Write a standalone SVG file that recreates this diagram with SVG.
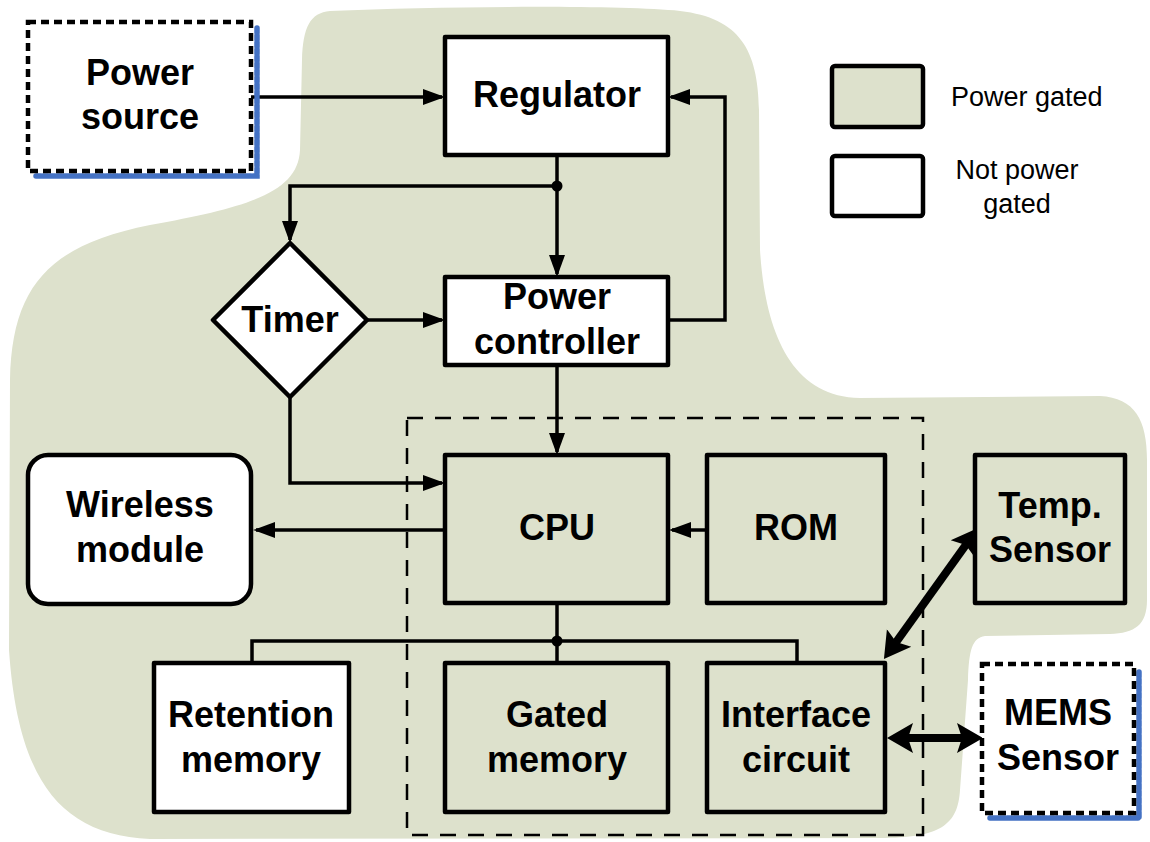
<svg xmlns="http://www.w3.org/2000/svg" width="1150" height="842" viewBox="0 0 1150 842">
<style>
.box{stroke:#000;stroke-width:4.5;stroke-linejoin:round}
.g{fill:#dde1cc}
.w{fill:#fff}
.lbl{font-family:"Liberation Sans",Arial,sans-serif;font-weight:bold;font-size:36px;fill:#000;text-anchor:middle}
.leg{font-family:"Liberation Sans",Arial,sans-serif;font-size:27px;fill:#000}
.con{fill:none;stroke:#000;stroke-width:3.5}
.ext{fill:#fff;stroke:#000;stroke-width:4.5;stroke-dasharray:8 5}
.shadow{fill:none;stroke:#4472c4;stroke-width:5.5;stroke-dasharray:5 2;stroke-linecap:round}
</style>
<defs>
<marker id="arr" markerUnits="userSpaceOnUse" viewBox="0 0 22 16" markerWidth="22" markerHeight="16" refX="19" refY="8" orient="auto"><path d="M0,0 L22,8 L0,16 z" fill="#000"/></marker>
<marker id="thick" markerUnits="userSpaceOnUse" viewBox="0 -16 28 32" markerWidth="28" markerHeight="32" refX="6" refY="0" orient="auto-start-reverse"><path d="M0,-15 L26,0 L0,15 L5,0 z" fill="#000"/></marker>
</defs>
<rect width="1150" height="842" fill="#fff"/>
<path id="gated-region" class="g" d="M330,11 C450,6 620,5 680,11 C740,18 758,50 759,110 L760,250 C765,330 790,397 860,398 L1100,396 C1135,398 1147,420 1147,460 L1147,600 C1147,625 1135,633 1110,634 L985,636 C972,638 969,650 968,680 L960,790 C958,825 940,838 880,838 L150,839 C60,835 18,780 9,650 L10,380 C12,285 50,245 150,225 C250,207 298,192 300,150 L302,60 C303,27 310,13 330,11 Z"/>

<g id="legend">
<rect class="box g" x="832" y="66" width="91" height="61" rx="3"/>
<text class="leg" x="951" y="106">Power gated</text>
<rect class="box w" x="832" y="156" width="91" height="60" rx="3"/>
<text class="leg" x="1017" y="179" text-anchor="middle">Not power</text>
<text class="leg" x="1017" y="213" text-anchor="middle">gated</text>
</g>

<rect id="dashed-domain" x="407" y="418" width="516" height="417" fill="none" stroke="#000" stroke-width="2.5" stroke-dasharray="16 12"/>

<g id="connectors">
<path class="con" d="M251,97 H442" marker-end="url(#arr)"/>
<path class="con" d="M557,155 V274" marker-end="url(#arr)"/>
<path class="con" d="M557,186 H290 V240" marker-end="url(#arr)"/>
<path class="con" d="M367,320 H442" marker-end="url(#arr)"/>
<path class="con" d="M668,320 H725 V97 H671" marker-end="url(#arr)"/>
<path class="con" d="M557,365 V452" marker-end="url(#arr)"/>
<path class="con" d="M290,397 V483 H442" marker-end="url(#arr)"/>
<path class="con" d="M445,530 H256" marker-end="url(#arr)"/>
<path class="con" d="M707,530 H672" marker-end="url(#arr)"/>
<path class="con" d="M557,603 V663"/>
<path class="con" d="M252,663 V641 H797 V663"/>
<circle cx="557" cy="186" r="5.5" fill="#000"/>
<circle cx="557" cy="641" r="5.5" fill="#000"/>
<path d="M895.6,642.8 L966.4,544.2" stroke="#000" stroke-width="8" fill="none" marker-start="url(#thick)" marker-end="url(#thick)"/>
<path d="M907,738 H963" stroke="#000" stroke-width="8" fill="none" marker-start="url(#thick)" marker-end="url(#thick)"/>
</g>

<g id="power-source">
<path class="shadow" d="M257,28 V176 H35"/>
<rect class="ext" x="28" y="22" width="223" height="149"/>
<text class="lbl" x="140" y="85">Power</text>
<text class="lbl" x="140" y="129">source</text>
</g>

<g id="regulator">
<rect class="box w" x="445" y="37" width="223" height="118"/>
<text class="lbl" x="557" y="107">Regulator</text>
</g>

<g id="timer">
<polygon class="box w" points="290,243 367,320 290,397 213,320"/>
<text class="lbl" x="290" y="332">Timer</text>
</g>

<g id="power-controller">
<rect class="box w" x="445" y="277" width="223" height="88"/>
<text class="lbl" x="557" y="309">Power</text>
<text class="lbl" x="557" y="354">controller</text>
</g>

<g id="wireless-module">
<rect class="box w" x="28" y="455" width="223" height="149" rx="20"/>
<text class="lbl" x="140" y="517">Wireless</text>
<text class="lbl" x="140" y="562">module</text>
</g>

<g id="cpu">
<rect class="box g" x="445" y="455" width="223" height="148"/>
<text class="lbl" x="557" y="540">CPU</text>
</g>

<g id="rom">
<rect class="box g" x="707" y="455" width="178" height="148"/>
<text class="lbl" x="796" y="540">ROM</text>
</g>

<g id="temp-sensor">
<rect class="box g" x="975" y="455" width="150" height="148"/>
<text class="lbl" x="1050" y="518">Temp.</text>
<text class="lbl" x="1050" y="562">Sensor</text>
</g>

<g id="retention-memory">
<rect class="box w" x="154" y="663" width="195" height="149"/>
<text class="lbl" x="251" y="727">Retention</text>
<text class="lbl" x="251" y="772">memory</text>
</g>

<g id="gated-memory">
<rect class="box g" x="445" y="663" width="223" height="149"/>
<text class="lbl" x="557" y="727">Gated</text>
<text class="lbl" x="557" y="772">memory</text>
</g>

<g id="interface-circuit">
<rect class="box g" x="707" y="663" width="178" height="149"/>
<text class="lbl" x="796" y="727">Interface</text>
<text class="lbl" x="796" y="772">circuit</text>
</g>

<g id="mems-sensor">
<path class="shadow" d="M1139,672 V818 H990"/>
<rect class="ext" x="982" y="664" width="152" height="149"/>
<text class="lbl" x="1058" y="725">MEMS</text>
<text class="lbl" x="1058" y="770">Sensor</text>
</g>
</svg>
